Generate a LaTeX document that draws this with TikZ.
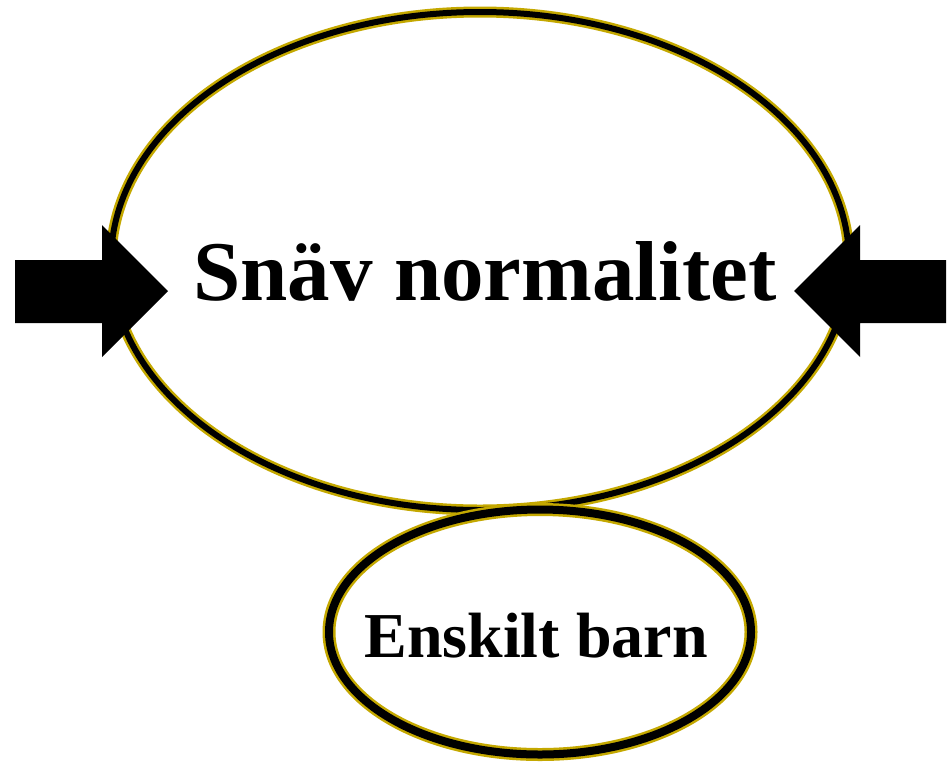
\documentclass[tikz,border=0pt]{standalone}
\usepackage{fontspec}
\setmainfont{Liberation Serif}
\usetikzlibrary{shapes.geometric}

\begin{document}
\begin{tikzpicture}[x=1pt, y=-1pt,
    oval/.style={ellipse, inner sep=0pt, fill=white, draw=c_gold, line width=#1+5pt,
                 postaction={draw=black, line width=#1}},
    blockarrow/.style={fill=black}
]

    % Farger
    \definecolor{c_gold}{RGB}{196, 168, 0}

    \useasboundingbox (0,0) rectangle (949,764);

    % Stora ovalen
    \node[oval=6pt, minimum width=738pt, minimum height=498pt] (norm) at (480,261) {};

    % Pilar mot ovalen
    \fill[blockarrow] (15,260) -- (102,260) -- (102,225) -- (168,291) -- (102,357) -- (102,323) -- (15,323) -- cycle;
    \fill[blockarrow] (946,260) -- (860,260) -- (860,225) -- (794,291) -- (860,357) -- (860,323) -- (946,323) -- cycle;

    % Lilla ovalen
    \node[oval=8pt, minimum width=422pt, minimum height=245pt] (barn) at (540,632) {};

    % Texter
    \node[font=\bfseries\fontsize{85}{90}\selectfont, anchor=base, inner sep=0pt] (normtext) at (485,300) {Snäv normalitet};
    \node[font=\bfseries\fontsize{64}{68}\selectfont, anchor=base, inner sep=0pt] (barntext) at (536,657) {Enskilt barn};

\end{tikzpicture}
\end{document}
